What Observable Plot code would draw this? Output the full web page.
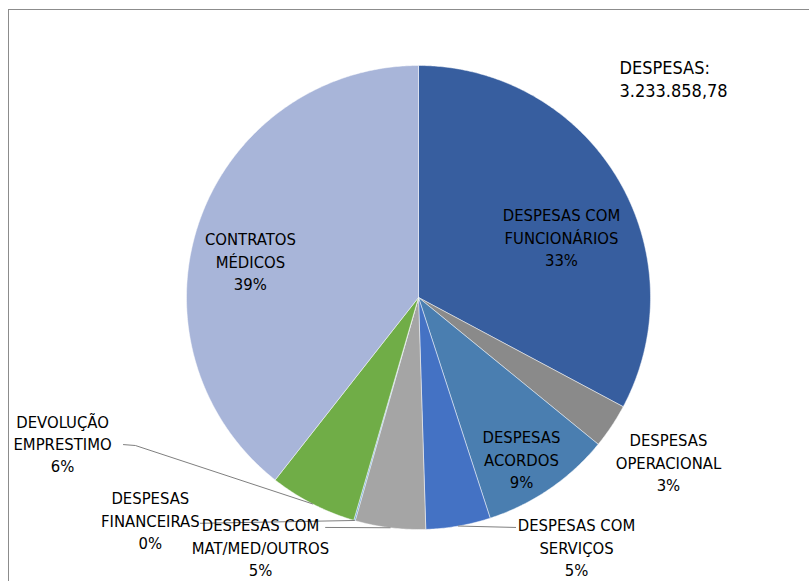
<!DOCTYPE html>
<html><head><meta charset="utf-8">
<script src="https://cdn.jsdelivr.net/npm/d3@7"></script>
<script src="https://cdn.jsdelivr.net/npm/@observablehq/plot@0.6"></script>
<style>
html,body{margin:0;padding:0;background:#fff;overflow:hidden;width:809px;height:581px}
#wrap{position:relative;width:809px;height:581px;overflow:hidden}
#frame{position:absolute;left:8px;top:9px;width:900px;height:700px;border:1.5px solid #8c8c8c;box-sizing:border-box}
#chart{position:absolute;left:0;top:0}
</style></head><body>
<div id="wrap"><div id="frame"></div><div id="chart"></div></div>
<script>
// ---- data ----
const categories = [
  "DESPESAS COM\nFUNCIONÁRIOS",
  "DESPESAS\nOPERACIONAL",
  "DESPESAS\nACORDOS",
  "DESPESAS COM\nSERVIÇOS",
  "DESPESAS COM\nMAT/MED/OUTROS",
  "DESPESAS\nFINANCEIRAS",
  "DEVOLUÇÃO\nEMPRESTIMO",
  "CONTRATOS\nMÉDICOS"
];
const shares = [32.8, 3.1, 9.1, 4.5, 4.9, 0.1, 6.1, 39.4]; // percent of total
const totalTitle = ["DESPESAS:", "3.233.858,78"];

// ---- style / layout (kept apart from data) ----
const colors = ["#375E9F", "#8A8A8A", "#4A7EB0", "#4472C4", "#A5A5A5", "#5B9BD5", "#70AD47", "#A8B5D9"];
const W = 809, H = 581, cx = 418, cy = 297, R = 232;
const FONT = "'Liberation Sans Narrow', 'Arial Narrow', 'DejaVu Sans Condensed', sans-serif";
const FS = 16.5;
// label anchors in polar form (degrees clockwise from top, radius in pie radii)
const labelPolar = [[66.9,0.670],[123.3,1.289],[147.4,0.824],[147.6,1.271],[212.4,1.271],[230.4,1.5],[247.8,1.657],[282.4,0.742]];
// leader line bends (polar), null = no leader
const leaderPolar = [null, null, null, [[157.1,1.076]], [[202.0,1.069]], [[224.0,1.353]], [[242.4,1.377],[243.5,1.421]], null];

const pt = (a, r) => ({x: r * Math.sin(a * Math.PI / 180), y: -r * Math.cos(a * Math.PI / 180)});

const total = d3.sum(shares);
let acc = 0;
const polys = [], labels = [], leaders = [];
categories.forEach((name, i) => {
  const a0 = acc / total * 360; acc += shares[i]; const a1 = acc / total * 360;
  const mid = (a0 + a1) / 2;
  const n = Math.max(2, Math.ceil((a1 - a0) / 0.5));
  polys.push({name, ...pt(0, 0)});
  for (let k = 0; k <= n; k++) polys.push({name, ...pt(a0 + (a1 - a0) * k / n, 1)});
  polys.push({name, ...pt(0, 0)});
  const [la, lr] = labelPolar[i];
  labels.push({name, text: name + "\n" + Math.round(shares[i]) + "%", ...pt(la, lr)});
  if (leaderPolar[i]) {
    leaders.push({name, ...pt(mid, 1)});
    leaderPolar[i].forEach(([a, r]) => leaders.push({name, ...pt(a, r)}));
  }
});

const chart = Plot.plot({
  width: W, height: H, margin: 0,
  x: {domain: [-cx / R, (W - cx) / R], range: [0, W], axis: null},
  y: {domain: [-cy / R, (H - cy) / R], range: [0, H], axis: null},
  color: {domain: categories, range: colors},
  style: {fontFamily: FONT, background: "transparent", overflow: "visible"},
  marks: [
    Plot.line(polys, {x: "x", y: "y", z: "name", fill: "name", stroke: "white", strokeWidth: 0.6, strokeOpacity: 0.8, curve: "linear"}),
    Plot.line(leaders, {x: "x", y: "y", z: "name", stroke: "#7f7f7f", strokeWidth: 1, curve: "linear"}),
    Plot.text(labels, {x: "x", y: "y", text: "text", fontSize: FS, lineHeight: 1.36, fill: "#000", textAnchor: "middle", lineAnchor: "middle"}),
    Plot.text([totalTitle.join("\n")], {frameAnchor: "top-left", dx: 619, dy: 57, text: d => d, textAnchor: "start", lineAnchor: "top", fontSize: 18, lineHeight: 1.28, fill: "#000"})
  ]
});
document.getElementById("chart").appendChild(chart);
</script>
</body></html>
